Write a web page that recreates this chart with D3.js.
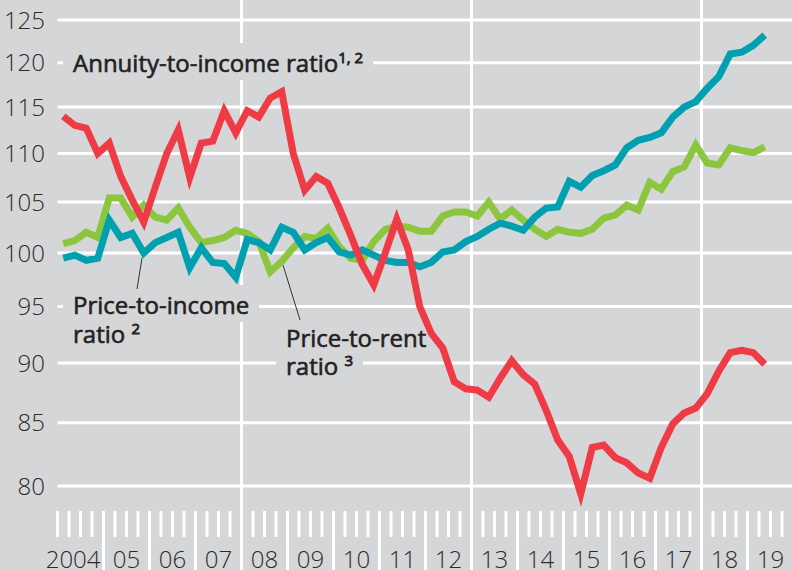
<!DOCTYPE html>
<html>
<head>
<meta charset="utf-8">
<script src="https://cdn.jsdelivr.net/npm/d3@7"></script>
<style>
    body { margin: 0; background: #d5d6d8; }
    svg { display: block; font-family: 'Open Sans', 'Noto Sans', sans-serif; }
</style>
</head>
<body>
<div class="chart"></div>
<script>
// quarterly series, first value is 2004 Q1
const firstYear = 2004
const yearLabels = ['2004', '05', '06', '07', '08', '09', '10', '11', '12',
    '13', '14', '15', '16', '17', '18', '19']
const yTicks = [80, 85, 90, 95, 100, 105, 110, 115, 120, 125]

const annuityToIncome = [114.0, 113.0, 112.7, 110.0, 111.1, 107.6, 105.2, 103.0,
    106.5, 110.0, 112.5, 107.5, 111.1, 111.3, 114.6, 112.2, 114.6, 113.9, 116.0, 116.7,
    110.0, 106.2, 107.6, 106.9, 104.4, 101.7, 98.9, 97.0, 100.0, 103.3, 100.3, 95.0,
    92.6, 91.3, 88.4, 87.8, 87.7, 87.1, 88.7, 90.2, 89.0, 88.2, 86.0, 83.6, 82.3, 79.4,
    83.0, 83.2, 82.2, 81.8, 81.0, 80.6, 83.0, 84.9, 85.8, 86.2, 87.4, 89.3, 90.9, 91.1,
    90.9, 89.9]

const priceToIncome = [99.5, 99.8, 99.3, 99.5, 103.2, 101.5, 101.9, 100.0, 101.0,
    101.5, 102.0, 98.6, 100.5, 99.1, 99.0, 97.7, 101.3, 101.0, 100.3, 102.5, 102.0,
    100.3, 101.0, 101.5, 100.1, 99.8, 100.3, 99.8, 99.3, 99.1, 99.1, 98.7, 99.1, 100.1,
    100.3, 101.1, 101.6, 102.3, 102.9, 102.6, 102.2, 103.5, 104.4, 104.5, 107.1, 106.5,
    107.7, 108.2, 108.8, 110.6, 111.4, 111.7, 112.2, 113.9, 115.0, 115.6, 117.1, 118.4,
    121.0, 121.2, 122.0, 123.2]

const priceToRent = [100.9, 101.2, 102.0, 101.5, 105.4, 105.4, 103.5, 104.7, 103.5,
    103.2, 104.4, 102.5, 101.0, 101.2, 101.5, 102.2, 101.9, 101.1, 98.2, 99.2, 100.5,
    101.6, 101.4, 102.4, 100.6, 99.5, 99.3, 101.1, 102.3, 102.6, 102.5, 102.1, 102.1,
    103.6, 104.0, 104.0, 103.6, 105.0, 103.3, 104.2, 103.2, 102.3, 101.6, 102.3, 102.0,
    101.9, 102.3, 103.4, 103.7, 104.7, 104.2, 107.0, 106.3, 108.1, 108.6, 110.9, 109.0,
    108.8, 110.6, 110.3, 110.1, 110.7]

const width = 792
const height = 570
const bg = '#d5d6d8'

const svg = d3.select('.chart')
    .append('svg')
        .attr('width', width)
        .attr('height', height)

svg.append('rect')
    .attr('width', width)
    .attr('height', height)
    .attr('fill', bg)

const x = d3.scaleLinear()
    .domain([firstYear, firstYear + 16])
    .range([57.5, 793.5])

const y = d3.scaleLog()
    .domain([80, 125])
    .range([486, 20])

const quarterX = (d, i) => x(firstYear + (i + 0.5) / 4)

//horizontal grid
svg.append('g')
    .selectAll('line')
    .data(yTicks)
    .enter()
    .append('line')
        .attr('x1', x(firstYear))
        .attr('x2', width)
        .attr('y1', (d) => y(d))
        .attr('y2', (d) => y(d))
        .style('stroke', 'white')
        .style('stroke-width', 3)

//five-year dividers
svg.append('g')
    .selectAll('line')
    .data([2008, 2013, 2018])
    .enter()
    .append('line')
        .attr('x1', (d) => x(d))
        .attr('x2', (d) => x(d))
        .attr('y1', 0)
        .attr('y2', height)
        .style('stroke', 'white')
        .style('stroke-width', 3)

//quarter ticks
const quarters = d3.range(0, yearLabels.length * 4).map((q) => firstYear + q / 4)
svg.append('g')
    .selectAll('line')
    .data(quarters)
    .enter()
    .append('line')
        .attr('x1', (d) => x(d))
        .attr('x2', (d) => x(d))
        .attr('y1', 511)
        .attr('y2', (d) => (Number.isInteger(d) && d > firstYear) ? height : 537)
        .style('stroke', 'white')
        .style('stroke-width', 3)

//y labels
svg.append('g')
    .selectAll('text')
    .data(yTicks)
    .enter()
    .append('text')
        .attr('x', 45)
        .attr('y', (d) => y(d))
        .attr('dy', '0.36em')
        .attr('text-anchor', 'end')
        .style('font-size', '24px')
        .style('font-weight', 300)
        .style('fill', '#2b2b2b')
        .text((d) => d)

//x labels
svg.append('g')
    .selectAll('text')
    .data(yearLabels)
    .enter()
    .append('text')
        .attr('x', (d, i) => i === 0 ? x(firstYear + 1) - 3 : x(firstYear + i + 0.5))
        .attr('y', 568)
        .attr('text-anchor', (d, i) => i === 0 ? 'end' : 'middle')
        .style('font-size', '24px')
        .style('font-weight', 300)
        .style('fill', '#2b2b2b')
        .text((d) => d)

//series labels, one text per label, a knocked-out box behind each line
const styleText = (t) => t
    .style('font-size', '24px')
    .style('fill', '#222')
    .style('stroke', '#222')
    .style('stroke-width', 0.6)

const addSup = (t, sup) => t.append('tspan')
    .attr('dy', -9)
    .style('font-size', '15px')
    .style('stroke-width', 0.8)
    .text(sup)

const addLabel = (lines, lx, ly, lineHeight) => {
    const g = svg.append('g')
    lines.forEach(([main, sup], i) => {
        const probe = styleText(g.append('text')
            .attr('x', lx)
            .attr('y', ly + i * lineHeight))
        probe.append('tspan').text(main)
        addSup(probe, sup)
        const b = probe.node().getBBox()
        probe.remove()
        g.append('rect')
            .attr('x', b.x - 10)
            .attr('y', b.y - 3)
            .attr('width', b.width + 20)
            .attr('height', b.height + 4)
            .attr('fill', bg)
    })
    const t = styleText(g.append('text'))
    lines.forEach(([main, sup], i) => {
        t.append('tspan')
            .attr('x', lx)
            .attr('y', ly + i * lineHeight)
            .text(main)
        addSup(t, sup)
    })
}

addLabel([['Annuity-to-income ratio', '1, 2']], 73, 72, 0)
addLabel([['Price-to-income', ''], ['ratio ', '2']], 73, 314, 29)
addLabel([['Price-to-rent', ''], ['ratio ', '3']], 286, 347, 28)

//leader lines
svg.append('g')
    .selectAll('line')
    .data([[142, 258, 137, 289], [283, 265, 300, 320]])
    .enter()
    .append('line')
        .attr('x1', (d) => d[0])
        .attr('y1', (d) => d[1])
        .attr('x2', (d) => d[2])
        .attr('y2', (d) => d[3])
        .style('stroke', '#333')
        .style('stroke-width', 1)

//series lines
const line = d3.line()
    .x(quarterX)
    .y((d) => y(d))

const series = [
    { values: priceToRent, color: '#8cc63f' },
    { values: priceToIncome, color: '#00a0b0' },
    { values: annuityToIncome, color: '#ee3b45' }
]

svg.append('g')
    .selectAll('path')
    .data(series)
    .enter()
    .append('path')
        .attr('d', (d) => line(d.values))
        .style('fill', 'none')
        .style('stroke', (d) => d.color)
        .style('stroke-width', 7)
        .style('stroke-linejoin', 'miter')
</script>
</body>
</html>
